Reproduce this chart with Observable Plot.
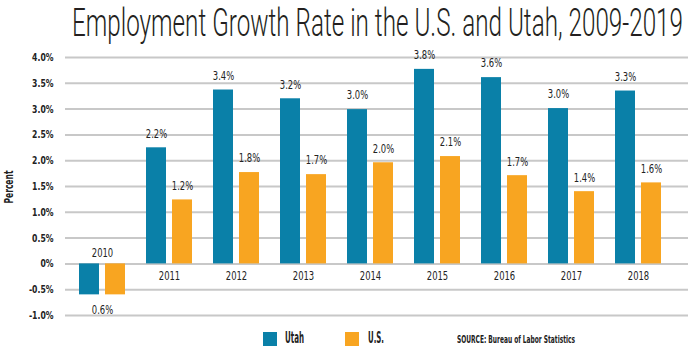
<!DOCTYPE html>
<html>
<head>
<meta charset="utf-8">
<script src="https://cdn.jsdelivr.net/npm/d3@7"></script>
<script src="https://cdn.jsdelivr.net/npm/@observablehq/plot@0.6"></script>
<style>
  html, body { margin: 0; padding: 0; background: #fff; }
  body { width: 690px; height: 352px; position: relative; overflow: hidden;
         font-family: "DejaVu Sans Condensed", sans-serif; color: #222; }
  .fit { position: absolute; white-space: nowrap; transform-origin: 0 0; }
  #titletext { left: 72px; top: 1px; font-family: Roboto, "DejaVu Sans Condensed", sans-serif;
               font-size: 38px; font-weight: 300; color: #231f20; }
  #chart { position: absolute; left: 0; top: 45px; }
  #ylab { position: absolute; left: 8px; top: 187px; white-space: nowrap;
          font-size: 13px; font-weight: bold; }
  .leg { position: absolute; top: 332px; width: 14px; height: 14px; }
  .legt { top: 329px; font-size: 15px; font-weight: bold; }
  #src { left: 457px; top: 333px; font-size: 11px; font-weight: bold; }
</style>
</head>
<body>
<div id="titletext" class="fit" data-w="611">Employment Growth Rate in the U.S. and Utah, 2009-2019</div>
<div id="chart"></div>
<div id="ylab">Percent</div>
<div class="leg" style="left:263px;background:#0a80a8"></div>
<div class="legt fit" style="left:285px" data-w="19">Utah</div>
<div class="leg" style="left:345px;background:#f8a521"></div>
<div class="legt fit" style="left:368px" data-w="16">U.S.</div>
<div id="src" class="fit" data-w="118">SOURCE: Bureau of Labor Statistics</div>
<script>
const years = ["2010", "2011", "2012", "2013", "2014", "2015", "2016", "2017", "2018"];
const utah = [-0.6, 2.25, 3.37, 3.2, 2.99, 3.77, 3.61, 3.01, 3.35];
const us = [-0.6, 1.24, 1.77, 1.73, 1.96, 2.08, 1.71, 1.40, 1.57];
const utahLabels = ["", "2.2%", "3.4%", "3.2%", "3.0%", "3.8%", "3.6%", "3.0%", "3.3%"];
const usLabels = ["", "1.2%", "1.8%", "1.7%", "2.0%", "2.1%", "1.7%", "1.4%", "1.6%"];
const negLabel = "0.6%";
const yTicks = [-1, -0.5, 0, 0.5, 1, 1.5, 2, 2.5, 3, 3.5, 4];

const rows = years.map((y, i) => ({year: y, utah: utah[i], us: us[i], ul: utahLabels[i], sl: usLabels[i]}));
const pos = rows.filter(d => d.utah >= 0);
const neg = rows.filter(d => d.utah < 0);

const font = '"DejaVu Sans Condensed", sans-serif';

const chart = Plot.plot({
  width: 690,
  height: 280,
  marginTop: 12,
  marginBottom: 10,
  marginLeft: 65,
  marginRight: 2,
  style: {fontFamily: font, fontSize: "11px", color: "#222", background: "#fff"},
  x: {domain: years, range: [66, 675], paddingInner: 0.697, paddingOuter: 0.3485, axis: null},
  y: {domain: [-1, 4], ticks: yTicks, tickSize: 0, tickPadding: 12, label: null,
      tickFormat: d => d === 0 ? "0%" : d.toFixed(1) + "%"},
  marks: [
    Plot.ruleY(yTicks, {stroke: "#c8c8c8", strokeWidth: 2}),
    Plot.barY(rows, {x: "year", y: "utah", fill: "#0a80a8", dx: -13}),
    Plot.barY(rows, {x: "year", y: "us", fill: "#f8a521", dx: 13}),
    Plot.text(pos, {x: "year", y: "utah", text: "ul", dx: -13, dy: -14, fontSize: 12, fill: "#222"}),
    Plot.text(pos, {x: "year", y: "us", text: "sl", dx: 13, dy: -14, fontSize: 12, fill: "#222"}),
    Plot.text(pos, {x: "year", y: () => 0, text: "year", dy: 12, fontSize: 12, fill: "#222"}),
    Plot.text(neg, {x: "year", y: () => 0, text: "year", dy: -11, fontSize: 12, fill: "#222"}),
    Plot.text(neg, {x: "year", y: "utah", text: () => negLabel, dy: 15, fontSize: 12, fill: "#222"})
  ]
});
chart.querySelectorAll('[aria-label="y-axis tick label"] text').forEach(t => t.setAttribute("font-weight", "bold"));
document.getElementById("chart").appendChild(chart);

// condense all chart texts horizontally about their anchor point
chart.querySelectorAll("text").forEach(t => {
  const xa = parseFloat(t.getAttribute("x"));
  const x = isFinite(xa) ? xa : 0;
  const tr = t.getAttribute("transform") || "";
  t.setAttribute("transform", `${tr} translate(${x},0) scale(0.78,1) translate(${-x},0)`);
});

// fit HTML texts to reference widths
document.querySelectorAll(".fit").forEach(el => {
  const w = el.getBoundingClientRect().width;
  el.style.transform = `scaleX(${(+el.dataset.w) / w})`;
});
const yl = document.getElementById("ylab");
const yw = yl.getBoundingClientRect().width;
yl.style.transform = `translate(-50%, -50%) rotate(-90deg) scaleX(${33 / yw})`;
</script>
</body>
</html>
